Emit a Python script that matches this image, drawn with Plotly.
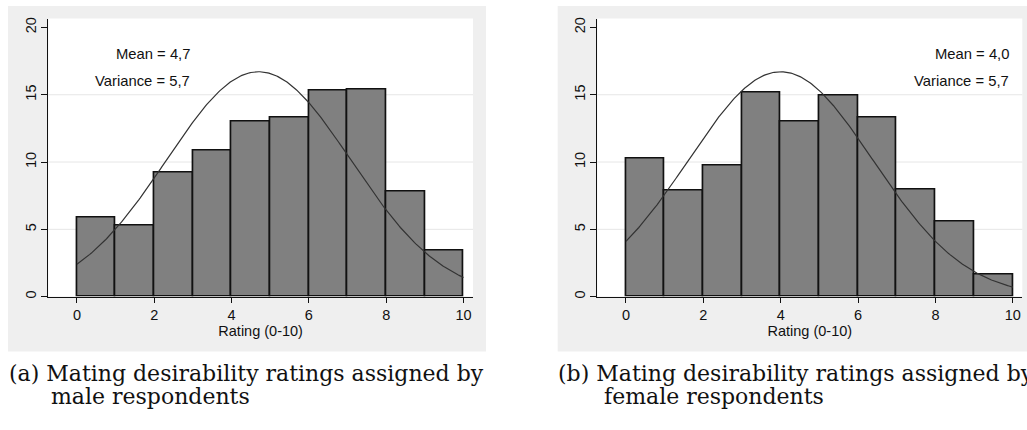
import numpy as np
import plotly.graph_objects as go

# ---------------- data ----------------
BIN_EDGES = [0, 1, 2, 3, 4, 5, 6, 7, 8, 9, 10]
MALE_PCT = [5.90, 5.29, 9.22, 10.83, 13.04, 13.28, 15.33, 15.38, 7.82, 3.39]
FEMALE_PCT = [10.29, 7.90, 9.72, 15.16, 12.99, 14.91, 13.28, 7.95, 5.61, 1.62]
MALE_MEAN, MALE_VAR = 4.7, 5.7
FEMALE_MEAN, FEMALE_VAR = 4.0, 5.7
MALE_LABELS = ["Mean = 4,7", "Variance = 5,7"]
FEMALE_LABELS = ["Mean = 4,0", "Variance = 5,7"]
X_TICKS = [0, 2, 4, 6, 8, 10]
Y_TICKS = [0, 5, 10, 15, 20]
GRID_LEVELS = [5, 10, 15]
X_TITLE = "Rating (0-10)"
CAPTION_A = ["(a) Mating desirability ratings assigned by", "male respondents"]
CAPTION_B = ["(b) Mating desirability ratings assigned by", "female respondents"]

# ---------------- layout constants ----------------
W, H = 1027, 430
SANS = "Liberation Sans, Arial, sans-serif"
SERIF = "DejaVu Serif, serif"
PANEL_BG = "#efefef"
BAR_FILL = "#808080"
X_RANGE = [-0.74, 10.245]
Y_RANGE = [0, 20.66]


def px(x):
    return x / W


def py(y):
    return 1 - y / H


def normal_curve(mean, var):
    xs = np.linspace(BIN_EDGES[0], BIN_EDGES[-1], 301)
    sd = np.sqrt(var)
    ys = 100 * np.exp(-(xs - mean) ** 2 / (2 * var)) / (sd * np.sqrt(2 * np.pi))
    return xs, ys


edges = np.array(BIN_EDGES, dtype=float)
mids = (edges[:-1] + edges[1:]) / 2
widths = edges[1:] - edges[:-1]

fig = go.Figure()

panels = [
    dict(pct=MALE_PCT, mean=MALE_MEAN, var=MALE_VAR, labels=MALE_LABELS,
         xa="x", ya="y", label_x=2.97, anchor="right"),
    dict(pct=FEMALE_PCT, mean=FEMALE_MEAN, var=FEMALE_VAR, labels=FEMALE_LABELS,
         xa="x2", ya="y2", label_x=9.94, anchor="right"),
]

for p in panels:
    fig.add_trace(go.Bar(
        x=mids, y=p["pct"], width=widths,
        marker=dict(color=BAR_FILL, line=dict(color="#111111", width=1.7)),
        xaxis=p["xa"], yaxis=p["ya"], showlegend=False, hoverinfo="skip"))
    cx, cy = normal_curve(p["mean"], p["var"])
    fig.add_trace(go.Scatter(
        x=cx, y=cy, mode="lines", line=dict(color="#333333", width=1.2),
        xaxis=p["xa"], yaxis=p["ya"], showlegend=False, hoverinfo="skip"))

# panel geometry (pixels)
left_dom = [px(48.3), px(473.0)]
right_dom = [px(597.3), px(1022.3)]
y_dom = [py(297.7), py(17.7)]

axis_common = dict(
    showline=True, linecolor="#111111", linewidth=1,
    ticks="outside", tickcolor="#111111", tickwidth=1,
    showgrid=False, zeroline=False,
    tickfont=dict(family=SANS, size=14.5, color="#111111"),
)

xcommon = dict(axis_common, range=X_RANGE, tickvals=X_TICKS, ticklen=5,
               title=dict(text=X_TITLE, font=dict(family=SANS, size=14.5, color="#111111"),
                          standoff=0))
ycommon = dict(axis_common, range=Y_RANGE, tickvals=Y_TICKS, ticklen=6,
               tickangle=-90)

fig.update_layout(
    width=W, height=H,
    margin=dict(l=0, r=0, t=0, b=0),
    paper_bgcolor="white", plot_bgcolor="rgba(0,0,0,0)",
    bargap=0,
    xaxis=dict(xcommon, domain=left_dom, anchor="y"),
    yaxis=dict(ycommon, domain=y_dom, anchor="x"),
    xaxis2=dict(xcommon, domain=right_dom, anchor="y2"),
    yaxis2=dict(ycommon, domain=y_dom, anchor="x2"),
)

shapes = []
# grey graph regions and white plot regions
for (gx0, gx1), dom in [((8, 486), left_dom), ((557.7, 1040), right_dom)]:
    shapes.append(dict(type="rect", xref="paper", yref="paper", layer="below",
                       x0=px(gx0), x1=px(gx1), y0=py(353), y1=py(5),
                       fillcolor=PANEL_BG, line=dict(width=0)))
    shapes.append(dict(type="rect", xref="paper", yref="paper", layer="below",
                       x0=dom[0], x1=dom[1], y0=y_dom[0], y1=y_dom[1],
                       fillcolor="white", line=dict(width=0)))
# horizontal grid lines
for p in panels:
    xd = p["xa"] + " domain"
    for g in GRID_LEVELS:
        shapes.append(dict(type="line", xref=xd, yref=p["ya"], layer="below",
                           x0=0, x1=1, y0=g, y1=g,
                           line=dict(color="#e6e6e6", width=1)))
fig.update_layout(shapes=shapes)

annotations = []
for p in panels:
    for lab, yv in zip(p["labels"], [18, 16]):
        annotations.append(dict(text=lab, x=p["label_x"], y=yv, xref=p["xa"], yref=p["ya"],
                                xanchor=p["anchor"], yanchor="middle", showarrow=False,
                                font=dict(family=SANS, size=14.8, color="#111111")))

for cap, (x1, x2) in [(CAPTION_A, (7, 49)), (CAPTION_B, (556, 601.7))]:
    annotations.append(dict(text=cap[0], x=px(x1), y=py(375), xref="paper", yref="paper",
                            xanchor="left", yanchor="middle", showarrow=False,
                            font=dict(family=SERIF, size=22, color="#111111")))
    annotations.append(dict(text=cap[1], x=px(x2), y=py(398), xref="paper", yref="paper",
                            xanchor="left", yanchor="middle", showarrow=False,
                            font=dict(family=SERIF, size=22, color="#111111")))
fig.update_layout(annotations=annotations)

fig.write_html(
    "out.html",
    config={"displayModeBar": False},
    post_script="document.body.style.margin='0px';document.body.style.overflow='hidden';",
)
